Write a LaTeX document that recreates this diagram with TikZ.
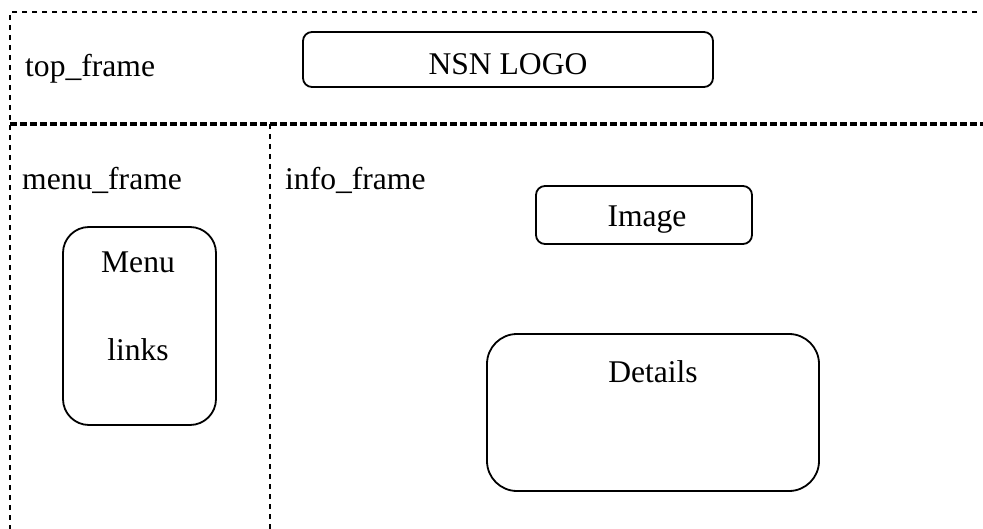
\documentclass[tikz,border=0pt]{standalone}
\usepackage{fontspec}
\setmainfont{Liberation Serif}
\begin{document}
\begin{tikzpicture}[x=1pt,y=-1pt,
  frameline/.style={line width=2.4pt, dash pattern=on 5pt off 5pt},
  splitline/.style={line width=3.2pt, dash pattern=on 6.5pt off 3.5pt},
  box/.style={draw, line width=1.8pt, inner sep=0pt},
  lbl/.style={anchor=base west, inner sep=0pt, font=\fontsize{31.6}{38}\selectfont},
  ctr/.style={anchor=base, inner sep=0pt, font=\fontsize{31.6}{38}\selectfont}]
  \useasboundingbox (0,0) rectangle (983,529);

  % frame outlines
  \coordinate (tl) at (10,12);
  \coordinate (tr) at (977,12);
  \coordinate (ml) at (10,124);
  \coordinate (mr) at (983,124);
  \coordinate (bl) at (10,529);
  \coordinate (dtop) at (270,124);
  \coordinate (dbot) at (270,529);
  \draw[frameline] (tr) -- (tl) -- (bl);
  \draw[splitline] (ml) -- (mr);
  \draw[frameline] (dtop) -- (dbot);

  % frame names
  \node[lbl] (topname) at (25,77) {top\_frame};
  \node[lbl] (menuname) at (22,190) {menu\_frame};
  \node[lbl] (infoname) at (285,190) {info\_frame};

  % logo box
  \node[box, rounded corners=9pt, minimum width=410pt, minimum height=55pt] (logo) at (508,59.5) {};
  \node[ctr] (logotext) at (508,75) {NSN LOGO};

  % image box
  \node[box, rounded corners=9pt, minimum width=216pt, minimum height=58pt] (image) at (644,215) {};
  \node[ctr] (imagetext) at (647,227) {Image};

  % menu box
  \node[box, rounded corners=26pt, minimum width=153pt, minimum height=198pt] (menu) at (139.5,326) {};
  \node[ctr] (menutext) at (138,273) {Menu};
  \node[ctr] (linkstext) at (138,360) {links};

  % details box
  \node[box, rounded corners=30pt, minimum width=332pt, minimum height=157pt] (details) at (653,412.5) {};
  \node[ctr] (detailstext) at (653,383) {Details};
\end{tikzpicture}
\end{document}
